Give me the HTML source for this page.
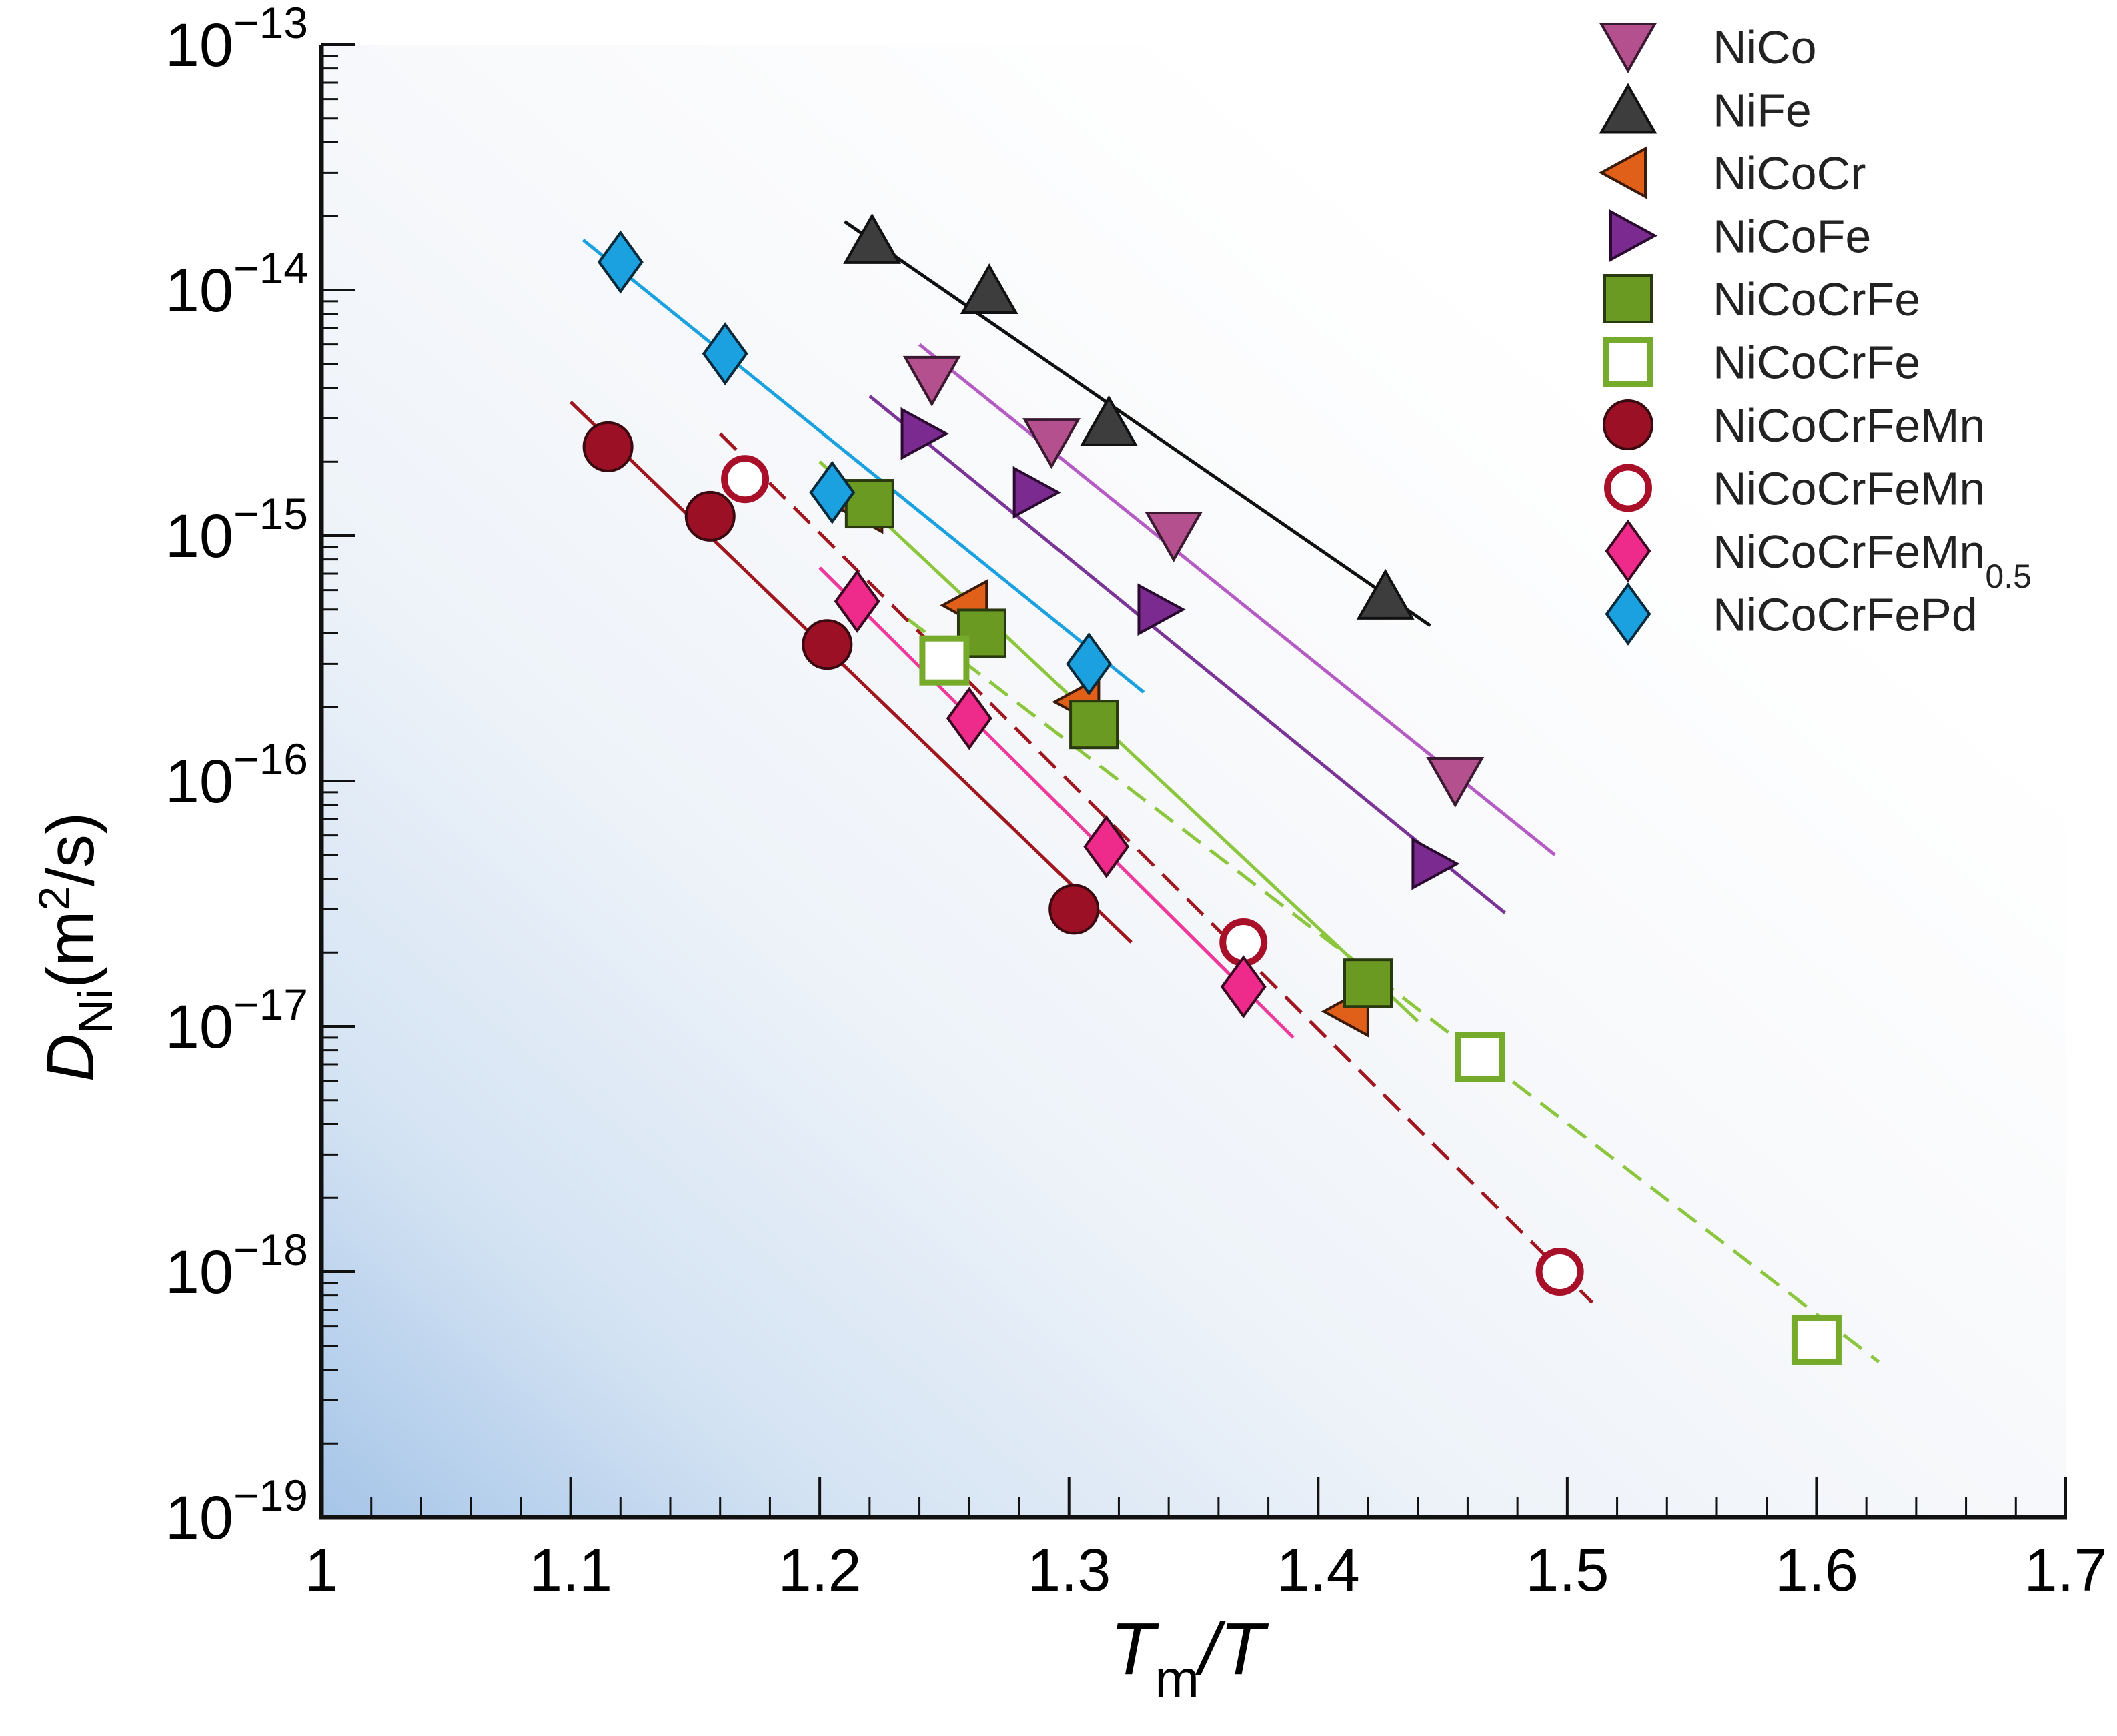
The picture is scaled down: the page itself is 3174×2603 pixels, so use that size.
<!DOCTYPE html>
<html><head><meta charset="utf-8"><style>
html,body{margin:0;padding:0;background:#fff;}
svg{display:block;font-family:"Liberation Sans",Arial,sans-serif;}
</style></head><body>
<svg id="chart" width="3174" height="2603" viewBox="0 0 3174 2603" xmlns="http://www.w3.org/2000/svg">
<defs>
<linearGradient id="bg" x1="0" y1="1" x2="0.75" y2="0.25">
<stop offset="0" stop-color="#a6c5e8"/>
<stop offset="0.2" stop-color="#d4e3f3"/>
<stop offset="0.45" stop-color="#eef3f9"/>
<stop offset="0.7" stop-color="#f8f9fb"/>
<stop offset="1" stop-color="#ffffff"/>
</linearGradient>
</defs>
<rect x="482" y="67" width="2615" height="2208" fill="url(#bg)"/>
<g id="axes"></g>
<g id="lines"></g>
<g id="marks"></g>
<g id="legend"></g>
<text x="1780" y="2510" font-size="110" font-style="italic" text-anchor="middle">T<tspan font-size="80" font-style="normal" dy="35">m</tspan><tspan dy="-35">/T</tspan></text>
<text transform="translate(140,1420) rotate(-90)" font-size="100" text-anchor="middle"><tspan font-style="italic">D</tspan><tspan font-size="72" dy="28">Ni</tspan><tspan dy="-28">(m</tspan><tspan font-size="66" dy="-36">2</tspan><tspan dy="36">/s)</tspan></text>
</svg>
<script>
const xTicks=[1,1.1,1.2,1.3,1.4,1.5,1.6,1.7];
const xTickLabels=["1","1.1","1.2","1.3","1.4","1.5","1.6","1.7"];
const yExps=[-13,-14,-15,-16,-17,-18,-19];
const seriesNames=["NiCo","NiFe","NiCoCr","NiCoFe","NiCoCrFe","NiCoCrFe","NiCoCrFeMn","NiCoCrFeMn","NiCoCrFeMn0.5","NiCoCrFePd"];
const xNiCo=[1.245,1.293,1.342,1.455];
const yNiCo=[4.3e-15,2.4e-15,1.0e-15,1.0e-16];
const xNiFe=[1.221,1.268,1.316,1.427];
const yNiFe=[1.6e-14,1.0e-14,2.9e-15,5.7e-16];
const xNiCoCr=[1.218,1.26,1.305,1.413];
const yNiCoCr=[1.3e-15,5.2e-16,2.1e-16,1.15e-17];
const xNiCoFe=[1.24,1.285,1.335,1.445];
const yNiCoFe=[2.6e-15,1.5e-15,5.0e-16,4.6e-17];
const xCrFe=[1.22,1.265,1.31,1.42];
const yCrFe=[1.35e-15,4.0e-16,1.7e-16,1.5e-17];
const xCrFeO=[1.25,1.465,1.6];
const yCrFeO=[3.1e-16,7.5e-18,5.3e-19];
const xMn=[1.115,1.156,1.203,1.302];
const yMn=[2.3e-15,1.2e-15,3.6e-16,3.0e-17];
const xMnO=[1.17,1.37,1.497];
const yMnO=[1.7e-15,2.2e-17,1.0e-18];
const xMn05=[1.215,1.26,1.315,1.37];
const yMn05=[5.4e-16,1.8e-16,5.4e-17,1.45e-17];
const xPd=[1.12,1.162,1.205,1.308];
const yPd=[1.3e-14,5.5e-15,1.5e-15,3.0e-16];
const lineNiCo=[[1.24,6.0e-15],[1.495,5.0e-17]];
const lineNiFe=[[1.21,1.9e-14],[1.445,4.3e-16]];
const lineNiCoFe=[[1.22,3.7e-15],[1.475,2.9e-17]];
const lineCrFe=[[1.2,2.0e-15],[1.44,1.05e-17]];
const lineCrFeO=[[1.235,4.6e-16],[1.625,4.3e-19]];
const lineMn=[[1.1,3.5e-15],[1.325,2.2e-17]];
const lineMnO=[[1.16,2.6e-15],[1.51,7.5e-19]];
const lineMn05=[[1.2,7.4e-16],[1.39,9.0e-18]];
const linePd=[[1.105,1.6e-14],[1.33,2.3e-16]];

const NS="http://www.w3.org/2000/svg";
const X=v=>482+(v-1)*(3097-482)/0.7;
const Y=d=>67+(-13-Math.log10(d))*368;
function mk(tag,parent,attrs){const e=document.createElementNS(NS,tag);for(const k in attrs)e.setAttribute(k,attrs[k]);parent.appendChild(e);return e;}
const axes=document.getElementById('axes');
let e=mk('line',axes,{x1:482,y1:67,x2:482,y2:2278,stroke:'#111','stroke-width':7});


e=mk('line',axes,{x1:479,y1:2275,x2:3099,y2:2275,stroke:'#111','stroke-width':7});


xTicks.forEach((v,i)=>{
  const t=mk('line',axes,{x1:X(v),y1:2275,x2:X(v),y2:2215,stroke:'#111','stroke-width':4});
  
  
  const l=mk('text',axes,{x:X(v),y:2385,'font-size':90,'text-anchor':'middle','font-weight':300});
  l.textContent=xTickLabels[i];
  
  
  if(i<xTicks.length-1){for(let k=1;k<5;k++){const m=mk('line',axes,{x1:X(v+k*0.02),y1:2275,x2:X(v+k*0.02),y2:2245,stroke:'#111','stroke-width':3});
    
    }}
});
yExps.forEach((p,i)=>{
  const yy=Y(Math.pow(10,p));
  const t=mk('line',axes,{x1:482,y1:yy,x2:532,y2:yy,stroke:'#111','stroke-width':4});
  
  
  const l=mk('text',axes,{x:462,y:yy+32,'font-size':92,'text-anchor':'end'});
  l.innerHTML='10<tspan font-size="66" dy="-42">\u2212'+(-p)+'</tspan>';
  
  
  if(p>-19){for(let k=2;k<10;k++){const ym=Y(k*Math.pow(10,p-1));const m=mk('line',axes,{x1:482,y1:ym,x2:507,y2:ym,stroke:'#111','stroke-width':3});
    
    }}
});
const lines=document.getElementById('lines');
function drawLine(L,color,dash,name){
  const ln=mk('line',lines,{x1:X(L[0][0]),y1:Y(L[0][1]),x2:X(L[1][0]),y2:Y(L[1][1]),stroke:color,'stroke-width':5});
  if(dash)ln.setAttribute('stroke-dasharray','34 18');
  
  
}
drawLine(lineNiFe,'#111',false,'fit-line-nife');
drawLine(lineNiCo,'#b45cc4',false,'fit-line-nico');
drawLine(lineNiCoFe,'#7a3596',false,'fit-line-nicofe');
drawLine(lineCrFe,'#8cc63f',false,'fit-line-nicocrfe');
drawLine(lineCrFeO,'#8cc63f',true,'fit-line-nicocrfe-open');
drawLine(lineMn,'#a0161e',false,'fit-line-nicocrfemn');
drawLine(lineMnO,'#a0161e',true,'fit-line-nicocrfemn-open');
drawLine(lineMn05,'#ee3a9a',false,'fit-line-mn05');
drawLine(linePd,'#1ba0e0',false,'fit-line-pd');

function marker(parent,type,cx,cy,fill,stroke){
  let el;const sw=4;
  if(type==='down') el=mk('polygon',parent,{points:`${cx-40},${cy-34} ${cx+40},${cy-34} ${cx},${cy+36}`,fill,stroke,'stroke-width':sw});
  else if(type==='up') el=mk('polygon',parent,{points:`${cx-40},${cy+34} ${cx+40},${cy+34} ${cx},${cy-36}`,fill,stroke,'stroke-width':sw});
  else if(type==='left') el=mk('polygon',parent,{points:`${cx+26},${cy-36} ${cx+26},${cy+36} ${cx-40},${cy}`,fill,stroke,'stroke-width':sw});
  else if(type==='right') el=mk('polygon',parent,{points:`${cx-26},${cy-36} ${cx-26},${cy+36} ${cx+40},${cy}`,fill,stroke,'stroke-width':sw});
  else if(type==='sq') el=mk('rect',parent,{x:cx-35,y:cy-35,width:70,height:70,fill,stroke,'stroke-width':sw});
  else if(type==='osq') el=mk('rect',parent,{x:cx-33,y:cy-33,width:66,height:66,fill:'#fff',stroke,'stroke-width':9});
  else if(type==='circ') el=mk('circle',parent,{cx,cy,r:36,fill,stroke,'stroke-width':sw});
  else if(type==='ocirc') el=mk('circle',parent,{cx,cy,r:31,fill:'#fff',stroke,'stroke-width':10});
  else if(type==='dia') el=mk('polygon',parent,{points:`${cx},${cy-44} ${cx+32},${cy} ${cx},${cy+44} ${cx-32},${cy}`,fill,stroke,'stroke-width':sw});
  return el;
}
const series=[
 [xNiCo,yNiCo,'down','#b5508f','#3a1a30','nico'],
 [xNiFe,yNiFe,'up','#3d3d3d','#111','nife'],
 [xNiCoCr,yNiCoCr,'left','#e0601a','#3a1a0a','nicocr'],
 [xNiCoFe,yNiCoFe,'right','#7b2b8f','#2a0a30','nicofe'],
 [xCrFe,yCrFe,'sq','#6a9a22','#2a3a10','nicocrfe'],
 [xCrFeO,yCrFeO,'osq','#fff','#76aa2a','nicocrfe-open'],
 [xMn,yMn,'circ','#9b1025','#3a0a10','nicocrfemn'],
 [xMnO,yMnO,'ocirc','#fff','#a8102a','nicocrfemn-open'],
 [xMn05,yMn05,'dia','#ee2a8a','#3a0a20','nicocrfemn05'],
 [xPd,yPd,'dia','#1ba0e0','#0a2a3a','nicocrfepd']
];
const marks=document.getElementById('marks');
series.forEach(s=>{
  s[0].forEach((xv,i)=>{
    const m=marker(marks,s[2],X(xv),Y(s[1][i]),s[3],s[4]);
    
    
  });
});
const legend=document.getElementById('legend');
const legendLabels=["NiCo","NiFe","NiCoCr","NiCoFe","NiCoCrFe","NiCoCrFe","NiCoCrFeMn","NiCoCrFeMn","NiCoCrFeMn","NiCoCrFePd"];
series.forEach((s,i)=>{
  const cy=70+i*94.5;
  const m=marker(legend,s[2],2441,cy,s[3],s[4]);
  
  
  const t=mk('text',legend,{x:2568,y:cy+25,'font-size':70,fill:'#222','font-weight':300});
  t.textContent=legendLabels[i];
  if(i===8){const sub=mk('tspan',t,{'font-size':50,dy:30});sub.textContent='0.5';}
  
  
});
</script>
</body></html>
